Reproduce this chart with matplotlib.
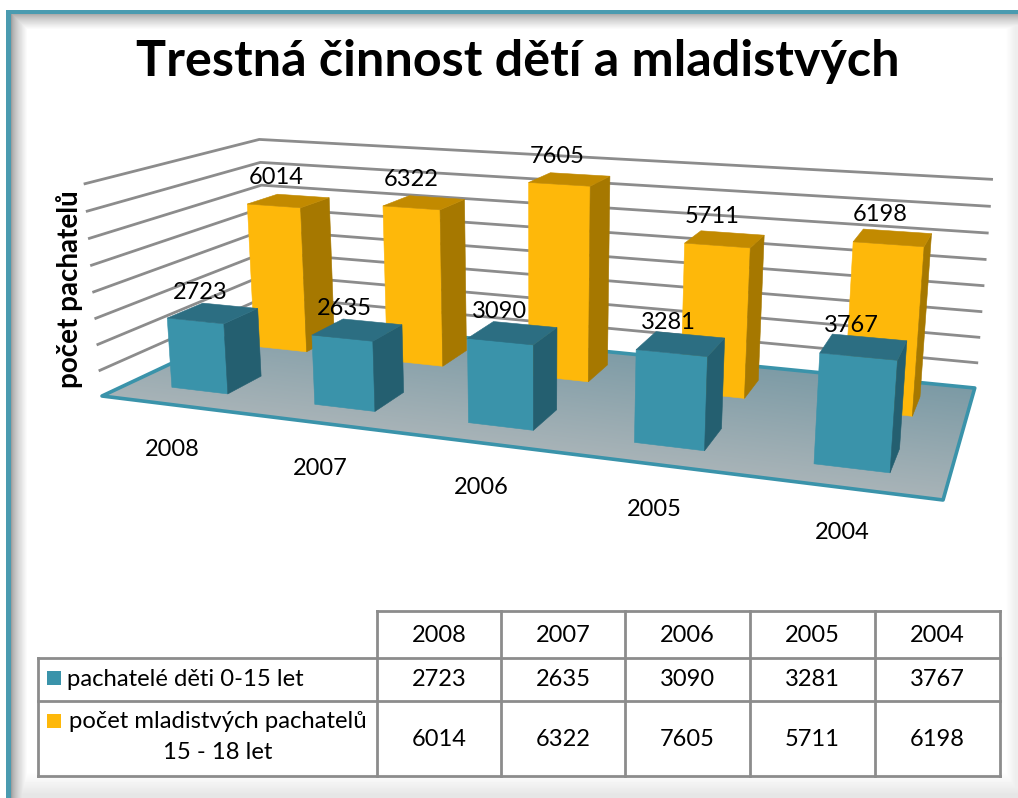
"""
Recreate the 3D-look bar chart with its data table, on one full-figure axes in pixel units.
"""

from __future__ import annotations

import matplotlib

matplotlib.use("Agg")

import matplotlib.pyplot as plt
import numpy as np
from matplotlib.patches import Polygon, Rectangle

plt.rcParams["font.family"] = ["Lato", "DejaVu Sans"]

TITLE = "Trestná činnost dětí a mladistvých"
Y_LABEL = "počet pachatelů"
YEARS = ["2008", "2007", "2006", "2005", "2004"]
CHILDREN = [2723, 2635, 3090, 3281, 3767]
YOUTHS = [6014, 6322, 7605, 5711, 6198]
CHILDREN_NAME = "pachatelé děti 0-15 let"
YOUTHS_NAME = "počet mladistvých pachatelů\n15 - 18 let"
GRID_VALUES = [1000, 2000, 3000, 4000, 5000, 6000, 7000, 8000]

TEAL = {"front": "#3a93aa", "side": "#245f70", "top": "#2c6e82"}
YELLOW = {"front": "#feb80a", "side": "#a67800", "top": "#c28a00"}
GRID_COLOR = "#8c8c8c"
FRAME_COLOR = "#4a9bb0"

W, H = 1018, 798

# Camera matrix fitted to the floor and wall corners.
# Columns: u (across, 0-1), v (depth, 0-1), value / 1000, 1.
CAMERA = np.array(
    [
        [671.3, 219.0, -2.52, 102.0],
        [14.0, -15.0, -27.4, 396.0],
        [-0.18, 0.198, -0.0047, 1.0],
    ]
)


def project(u: float, v: float, value: float = 0.0) -> tuple[float, float]:
    x, y, w = CAMERA @ np.array([u, v, value / 1000.0, 1.0])
    return x / w, y / w


def draw_shadow_frame(ax) -> None:
    # Soft inner shadow of the slide frame, then the teal border.
    yy, xx = np.mgrid[0:H, 0:W]
    d = np.minimum.reduce(
        [
            np.clip((xx - 11) / 16.0, 0, 1),
            np.clip((yy - 13) / 16.0, 0, 1),
            np.clip((H - 4 - yy) / 22.0, 0, 1) * 0.35 + 0.65,
            np.clip((W - 3 - xx) / 10.0, 0, 1) * 0.25 + 0.75,
        ]
    )
    shade = 0.62 + 0.38 * d**0.7
    shade[yy < 10] = 1.0
    shade[xx < 6] = 1.0
    ax.imshow(shade, cmap="gray", vmin=0, vmax=1, extent=(0, W, H, 0), aspect="auto", zorder=0)
    ax.add_patch(Rectangle((6.5, 10), W, 3.5, color=FRAME_COLOR, lw=0, zorder=1))
    ax.add_patch(Rectangle((6.5, 10), 4.5, H, color=FRAME_COLOR, lw=0, zorder=1))


def draw_floor(ax) -> None:
    corners = [project(0, 0), project(1, 0), project(1, 1), project(0, 1)]
    yy, xx = np.mgrid[300:510, 90:990]
    t = np.clip((yy - 0.12 * xx - 270) / 117.0, 0, 1)[..., None]
    back = np.array([0x7b, 0x9a, 0xa5]) / 255.0
    front = np.array([0xa9, 0xb4, 0xb8]) / 255.0
    img = ax.imshow(back + (front - back) * t, extent=(90, 990, 510, 300), aspect="auto", zorder=2)
    outline = Polygon(corners, closed=True, fill=False, edgecolor="#3a93aa", lw=2.6, joinstyle="round", zorder=2.1)
    ax.add_patch(outline)
    img.set_clip_path(Polygon(corners, closed=True, transform=ax.transData))


def draw_grid(ax) -> None:
    for value in GRID_VALUES:
        pts = [project(0, 0, value), project(0, 1, value), project(1, 1, value)]
        xs, ys = zip(*pts)
        ax.plot(xs, ys, color=GRID_COLOR, lw=2.0, zorder=2.5, solid_joinstyle="miter")


def draw_bar(ax, u_mid, v0, v1, value, colors, z) -> None:
    u0, u1 = u_mid - 0.04, u_mid + 0.04
    faces = {
        "front": [(u0, v0, 0), (u1, v0, 0), (u1, v0, value), (u0, v0, value)],
        "side": [(u1, v0, 0), (u1, v1, 0), (u1, v1, value), (u1, v0, value)],
        "top": [(u0, v0, value), (u1, v0, value), (u1, v1, value), (u0, v1, value)],
    }
    for name, face in faces.items():
        pts = [project(*p) for p in face]
        ax.add_patch(Polygon(pts, closed=True, facecolor=colors[name], edgecolor=colors[name], lw=0.4, zorder=z))


def draw_chart(ax) -> None:
    draw_floor(ax)
    draw_grid(ax)
    mids = [(i + 0.5) / len(YEARS) for i in range(len(YEARS))]
    for i, mid in enumerate(mids):
        draw_bar(ax, mid, 0.65, 0.85, YOUTHS[i], YELLOW, 3 + i * 0.01)
    for i, mid in enumerate(mids):
        draw_bar(ax, mid, 0.15, 0.35, CHILDREN[i], TEAL, 4 + i * 0.01)

    for i, mid in enumerate(mids):
        for value, v, lift in ((YOUTHS[i], 0.75, 23), (CHILDREN[i], 0.25, 21)):
            x, y = project(mid, v, value)
            ax.text(x - 13, y - lift, str(value), ha="center", va="center", fontsize=17, zorder=6)
        x, y = project(mid, 0)
        ax.text(x, y + 45, YEARS[i], ha="center", va="center", fontsize=17, zorder=6)

    ax.text(70, 289, Y_LABEL, rotation=90, ha="center", va="center", fontsize=20, fontweight="bold", zorder=6)


def draw_table(ax) -> None:
    col_x = [377, 501, 625, 750, 875, 1000]
    row_y = [611, 658, 701, 776]
    left = 38
    style = {"color": GRID_COLOR, "lw": 2.0, "zorder": 5, "solid_capstyle": "projecting"}

    ax.plot([col_x[0], col_x[-1]], [row_y[0], row_y[0]], **style)
    for y in row_y[1:]:
        ax.plot([left, col_x[-1]], [y, y], **style)
    for x in col_x:
        ax.plot([x, x], [row_y[0], row_y[-1]], **style)
    ax.plot([left, left], [row_y[1], row_y[-1]], **style)

    rows = [YEARS, CHILDREN, YOUTHS]
    row_mid = [636, 680, 739]
    for values, y in zip(rows, row_mid):
        for j, value in enumerate(values):
            x = (col_x[j] + col_x[j + 1]) / 2
            ax.text(x, y, str(value), ha="center", va="center", fontsize=17, zorder=6)

    ax.add_patch(Rectangle((47, 671), 14, 14, color=TEAL["front"], lw=0, zorder=6))
    ax.add_patch(Rectangle((47, 714), 14, 14, color=YELLOW["front"], lw=0, zorder=6))
    ax.text(67, 679, CHILDREN_NAME, ha="left", va="center", fontsize=17.2, zorder=6)
    ax.text(217.5, 737, YOUTHS_NAME, ha="center", va="center", fontsize=17.2, linespacing=1.55, zorder=6)


def main() -> int:
    fig = plt.figure(figsize=(W / 100, H / 100), dpi=100)
    ax = fig.add_axes((0, 0, 1, 1))

    draw_shadow_frame(ax)
    draw_chart(ax)
    draw_table(ax)
    ax.text(518, 61, TITLE, ha="center", va="center", fontsize=36.2, fontweight="bold", zorder=6)

    ax.set_xlim(0, W)
    ax.set_ylim(H, 0)
    ax.axis("off")
    fig.savefig("out.png", dpi=100)
    plt.close(fig)
    return 0


if __name__ == "__main__":
    raise SystemExit(main())
